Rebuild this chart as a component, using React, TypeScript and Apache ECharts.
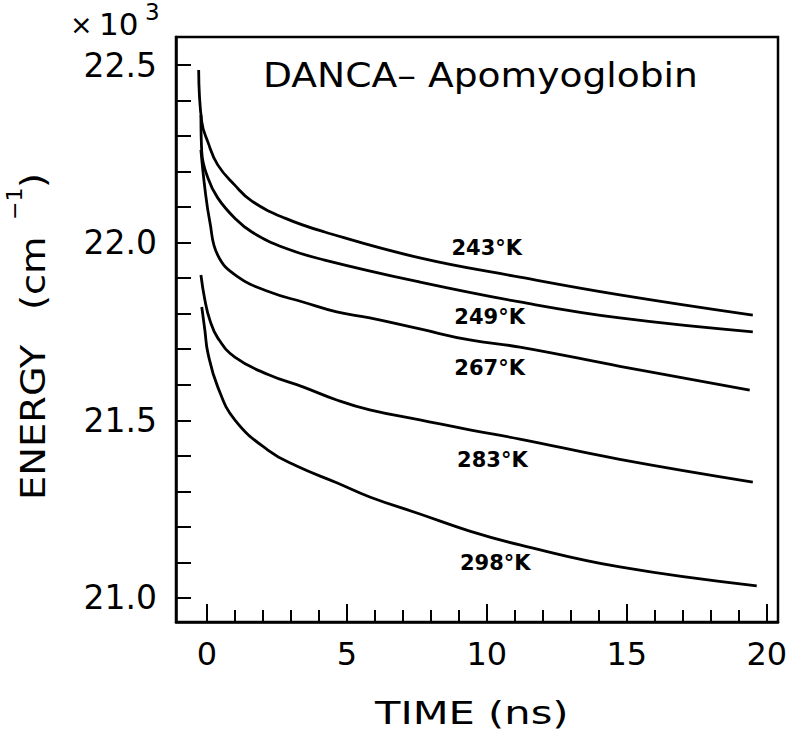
import React, { useEffect, useRef } from 'react';
import * as echarts from 'echarts';

const FONT = 'DejaVu Sans';

// Time (ns) and energy (x10^3 cm^-1) for each temperature curve
const time243 = [-0.29, -0.18, 0.04, 0.39, 1.0, 1.61, 2.79, 4.21, 7.61, 11.18, 14.75, 19.5];
const energy243 = [22.486, 22.34, 22.283, 22.219, 22.162, 22.117, 22.069, 22.03, 21.957, 21.903, 21.853, 21.796];

const time249 = [-0.21, -0.18, 0.04, 0.39, 1.0, 1.61, 2.79, 4.21, 7.61, 11.18, 14.75, 19.5];
const energy249 = [22.359, 22.255, 22.182, 22.126, 22.069, 22.03, 21.985, 21.951, 21.889, 21.833, 21.788, 21.749];

const time267 = [-0.21, -0.07, 0.11, 0.39, 1.07, 2.25, 3.43, 4.64, 5.82, 7.61, 9.39, 11.18, 14.75, 19.39];
const energy267 = [22.261, 22.154, 22.058, 21.965, 21.906, 21.861, 21.833, 21.805, 21.788, 21.757, 21.726, 21.706, 21.652, 21.585];

const time283 = [-0.21, -0.07, 0.11, 0.39, 1.0, 2.21, 3.43, 4.64, 5.82, 7.61, 9.39, 11.18, 14.75, 19.5];
const energy283 = [21.909, 21.839, 21.782, 21.732, 21.678, 21.628, 21.594, 21.557, 21.529, 21.501, 21.473, 21.447, 21.39, 21.326];

const time298 = [-0.18, -0.07, 0.04, 0.39, 1.0, 2.18, 3.21, 4.64, 5.82, 7.61, 9.39, 11.18, 14.75, 19.64];
const energy298 = [21.819, 21.754, 21.689, 21.594, 21.501, 21.416, 21.371, 21.324, 21.284, 21.236, 21.188, 21.149, 21.087, 21.034];

const curveLabels = ['243°K', '249°K', '267°K', '283°K', '298°K'];
const labelTime = [10.0, 10.1, 10.1, 10.2, 10.3];
const labelEnergy = [21.985, 21.791, 21.647, 21.388, 21.098];

const xMinorTicks = [0, 1, 2, 3, 4, 5, 6, 7, 8, 9, 10, 11, 12, 13, 14, 15, 16, 17, 18, 19, 20];
const xMajorTicks = [0, 5, 10, 15, 20];
const yTicks = [21.0, 21.1, 21.2, 21.3, 21.4, 21.5, 21.6, 21.7, 21.8, 21.9, 22.0, 22.1, 22.2, 22.3, 22.4, 22.5];
const yLabels = [21.0, 21.5, 22.0, 22.5];

const curves = [
  [time243, energy243],
  [time249, energy249],
  [time267, energy267],
  [time283, energy283],
  [time298, energy298],
];

const GRID_LEFT = 176;
const GRID_RIGHT = 22;
const WIDTH = 800;

export default function App() {
  const ref = useRef<HTMLDivElement>(null);
  useEffect(() => {
    const chart = echarts.init(ref.current!, null, { renderer: 'svg' });
    const series = curves.map(([t, e], i) => ({
      type: 'line',
      xAxisIndex: 0,
      yAxisIndex: 0,
      data: t.map((v, k) => [v, e[k]]),
      showSymbol: false,
      smooth: 0.45,
      lineStyle: { color: '#000', width: 2.8 },
      silent: true,
      markPoint: {
        symbol: 'circle',
        symbolSize: 0,
        silent: true,
        data: [{ coord: [labelTime[i], labelEnergy[i]] }],
        label: {
          show: true,
          position: 'inside',
          formatter: curveLabels[i],
          fontFamily: FONT,
          fontSize: 21,
          fontWeight: 'bold',
          color: '#000',
        },
      },
    }));

    const option = {
      animation: false,
      backgroundColor: '#fff',
      grid: {
        left: GRID_LEFT,
        right: GRID_RIGHT,
        top: 37,
        bottom: 113,
        show: true,
        borderColor: '#000',
        borderWidth: 2.5,
        backgroundColor: 'transparent',
      },
      xAxis: [
        {
          type: 'value',
          min: -1.1,
          max: 20.4,
          axisLine: { show: true, onZero: false, lineStyle: { color: '#000', width: 2.5 } },
          axisTick: {
            show: true,
            inside: true,
            length: 12,
            customValues: xMinorTicks,
            lineStyle: { color: '#000', width: 2 },
          },
          axisLabel: {
            customValues: xMajorTicks,
            fontFamily: FONT,
            fontSize: 32,
            color: '#000',
            margin: 16,
          },
          splitLine: { show: false },
        },
        {
          type: 'value',
          min: -1.1,
          max: 20.4,
          position: 'bottom',
          axisLine: { show: false, onZero: false },
          axisTick: {
            show: true,
            inside: true,
            length: 18,
            customValues: xMajorTicks,
            lineStyle: { color: '#000', width: 2 },
          },
          axisLabel: { show: false },
          splitLine: { show: false },
        },
      ],
      yAxis: [
        {
          type: 'value',
          min: 20.932,
          max: 22.579,
          position: 'left',
          axisLine: { show: true, onZero: false, lineStyle: { color: '#000', width: 2.5 } },
          axisTick: { show: false },
          axisLabel: {
            customValues: yLabels,
            formatter: (v: number) => v.toFixed(1),
            fontFamily: FONT,
            fontSize: 33,
            color: '#000',
            margin: 19,
          },
          splitLine: { show: false },
        },
        {
          // tick-only axis placed on the left frame edge, ticks pointing into the plot
          type: 'value',
          min: 20.932,
          max: 22.579,
          position: 'right',
          offset: -(WIDTH - GRID_LEFT - GRID_RIGHT),
          axisLine: { show: false, onZero: false },
          axisTick: {
            show: true,
            inside: false,
            length: 15,
            customValues: yTicks,
            lineStyle: { color: '#000', width: 2 },
          },
          axisLabel: { show: false },
          splitLine: { show: false },
        },
      ],
      graphic: [
        {
          type: 'text',
          x: 263,
          y: 75,
          scaleX: 1.14,
          silent: true,
          style: {
            text: 'DANCA– Apomyoglobin',
            fontFamily: FONT,
            fontSize: 33,
            fill: '#000',
            textAlign: 'left',
            textVerticalAlign: 'middle',
          },
        },
        {
          type: 'text',
          x: 375,
          y: 713,
          scaleX: 1.3,
          silent: true,
          style: {
            text: 'TIME (ns)',
            fontFamily: FONT,
            fontSize: 32,
            fill: '#000',
            textAlign: 'left',
            textVerticalAlign: 'middle',
          },
        },
        {
          type: 'text',
          x: 70,
          y: 24,
          silent: true,
          style: { text: '×', fontFamily: FONT, fontSize: 27, fill: '#000', textAlign: 'left', textVerticalAlign: 'middle' },
        },
        {
          type: 'text',
          x: 99,
          y: 24,
          silent: true,
          style: { text: '10', fontFamily: FONT, fontSize: 31, fill: '#000', textAlign: 'left', textVerticalAlign: 'middle' },
        },
        {
          type: 'text',
          x: 145,
          y: 12,
          silent: true,
          style: { text: '3', fontFamily: FONT, fontSize: 23, fill: '#000', textAlign: 'left', textVerticalAlign: 'middle' },
        },
        {
          type: 'group',
          x: 33,
          y: 500,
          rotation: Math.PI / 2,
          silent: true,
          children: [
            {
              type: 'text',
              x: 0,
              y: 0,
              scaleX: 1.13,
              style: { text: 'ENERGY', fontFamily: FONT, fontSize: 34, fill: '#000', textAlign: 'left', textVerticalAlign: 'middle' },
            },
            {
              type: 'text',
              x: 190,
              y: 0,
              scaleX: 1.13,
              style: { text: '(cm', fontFamily: FONT, fontSize: 34, fill: '#000', textAlign: 'left', textVerticalAlign: 'middle' },
            },
            {
              type: 'text',
              x: 280,
              y: -19,
              style: { text: '−1', fontFamily: FONT, fontSize: 22, fill: '#000', textAlign: 'left', textVerticalAlign: 'middle' },
            },
            {
              type: 'text',
              x: 312,
              y: 0,
              scaleX: 1.13,
              style: { text: ')', fontFamily: FONT, fontSize: 34, fill: '#000', textAlign: 'left', textVerticalAlign: 'middle' },
            },
          ],
        },
      ],
      series,
    };
    chart.setOption(option as any);
    return () => chart.dispose();
  }, []);
  return (
    <div
      ref={ref}
      style={{ position: 'absolute', left: 0, top: 0, width: 800, height: 735, background: '#fff' }}
    />
  );
}
